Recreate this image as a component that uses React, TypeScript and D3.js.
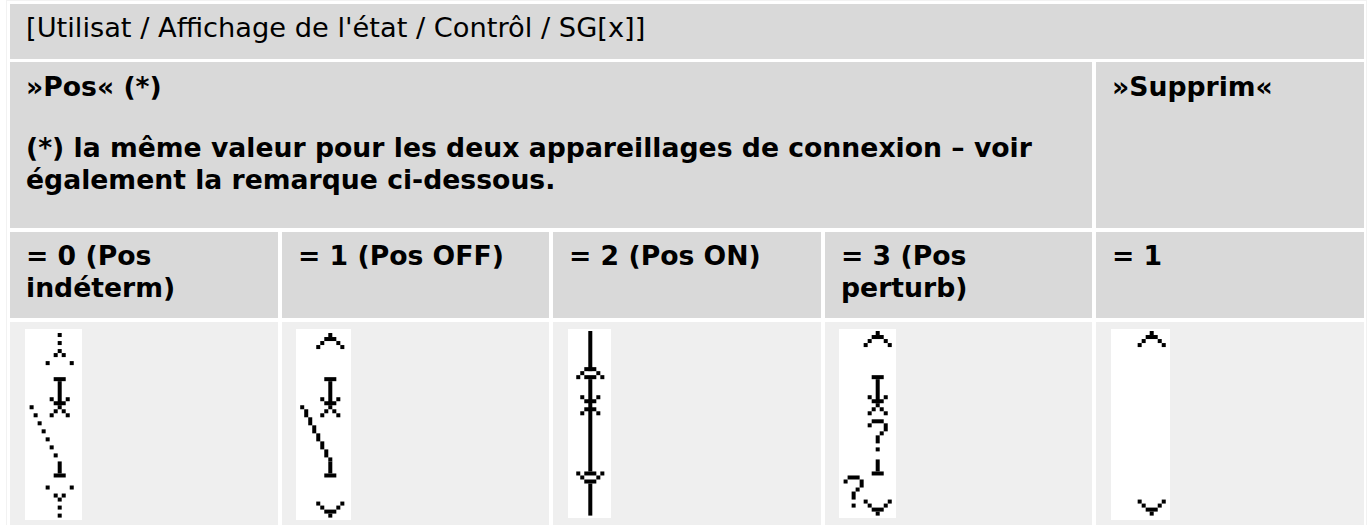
import * as d3 from "d3";

// text of the table
const breadcrumb = "[Utilisat / Affichage de l'état / Contrôl / SG[x]]";
const posTitle = ["»Pos« (*)"];
const posNote = [
  "(*) la même valeur pour les deux appareillages de connexion – voir",
  "également la remarque ci-dessous.",
];
const suppressHeader = ["»Supprim«"];
const valueLabels = [
  ["= 0 (Pos", "indéterm)"],
  ["= 1 (Pos OFF)"],
  ["= 2 (Pos ON)"],
  ["= 3 (Pos", "perturb)"],
  ["= 1"],
];
const columns = ["0", "1", "2", "3", "4"];

// pixel icons: [rowFrom, rowTo, colFrom, colTo], cols are relative to the stem
type Span = [number, number, number, number];

const solidTop: Span[] = [
  [1, 1, 0, 0],
  [2, 2, -1, 1],
  [3, 3, -2, -2],
  [3, 3, 2, 2],
  [4, 4, -3, -3],
  [4, 4, 3, 3],
];
const solidBottom: Span[] = [
  [43, 43, -3, -3],
  [43, 43, 3, 3],
  [44, 44, -2, -2],
  [44, 44, 2, 2],
  [45, 45, -1, 1],
  [46, 46, 0, 0],
];
const upperContact: Span[] = [
  [12, 12, -1, 1],
  [13, 18, 0, 0],
  [17, 17, -2, -2],
  [17, 17, 2, 2],
  [18, 18, -1, 1],
  [19, 19, 0, 0],
  [20, 20, -1, -1],
  [20, 20, 1, 1],
  [21, 21, -2, -2],
  [21, 21, 2, 2],
];
const lowerContact: Span[] = [
  [33, 35, 0, 0],
  [36, 36, -1, 1],
];

const iconIndeterm: Span[] = [
  [1, 1, 0, 0],
  [3, 3, 0, 0],
  [5, 5, 0, 0],
  [6, 6, -1, -1],
  [6, 6, 1, 1],
  [8, 8, -3, -3],
  [8, 8, 3, 3],
  ...upperContact,
  [19, 19, -7, -7],
  [21, 21, -6, -6],
  [23, 23, -5, -5],
  [25, 25, -4, -4],
  [27, 27, -3, -3],
  [29, 29, -2, -2],
  [31, 31, -1, -1],
  ...lowerContact,
  [39, 39, -3, -3],
  [39, 39, 3, 3],
  [41, 41, -1, -1],
  [41, 41, 1, 1],
  [42, 42, 0, 0],
  [44, 44, 0, 0],
  [46, 46, 0, 0],
];
const iconOff: Span[] = [
  ...solidTop,
  ...upperContact,
  [19, 19, -7, -7],
  [20, 21, -6, -6],
  [22, 23, -5, -5],
  [24, 25, -4, -4],
  [26, 27, -3, -3],
  [28, 29, -2, -2],
  [30, 31, -1, -1],
  [32, 32, 0, 0],
  ...lowerContact,
  ...solidBottom,
];
const iconOn: Span[] = [
  [1, 10, 0, 0],
  [10, 10, -1, 1],
  [11, 11, -2, -2],
  [11, 11, 2, 2],
  [12, 12, -3, -3],
  [12, 12, 3, 3],
  [12, 12, -1, 1],
  [13, 35, 0, 0],
  [17, 17, -2, -2],
  [17, 17, 2, 2],
  [18, 18, -1, 1],
  [20, 20, -1, 1],
  [21, 21, -2, -2],
  [21, 21, 2, 2],
  [36, 36, -3, -3],
  [36, 36, 3, 3],
  [36, 36, -1, 1],
  [37, 37, -2, -2],
  [37, 37, 2, 2],
  [38, 38, -1, 1],
  [39, 46, 0, 0],
];
const iconDisturbed: Span[] = [
  ...solidTop,
  ...upperContact,
  [23, 23, -1, 1],
  [24, 24, -2, -2],
  [24, 25, 2, 2],
  [26, 26, 1, 1],
  [27, 28, 0, 0],
  [30, 30, 0, 0],
  ...lowerContact,
  [37, 37, -7, -5],
  [38, 38, -8, -8],
  [38, 39, -4, -4],
  [40, 40, -5, -5],
  [41, 42, -6, -6],
  [44, 44, -6, -6],
  ...solidBottom,
];
const iconSuppressed: Span[] = [...solidTop, ...solidBottom];

const icons = [iconIndeterm, iconOff, iconOn, iconDisturbed, iconSuppressed];

// white image box and stem position of each icon
const iconBoxes = [
  { x0: 25, x1: 82, y1: 520, stem: 59.7, top: 329 },
  { x0: 296, x1: 351, y1: 520, stem: 330.3, top: 329 },
  { x0: 568, x1: 611, y1: 518, stem: 590.3, top: 327 },
  { x0: 839, x1: 896, y1: 518, stem: 877.7, top: 327 },
  { x0: 1111, x1: 1170, y1: 520, stem: 1151.7, top: 327 },
];
const iconPixel = 4.013;

const width = 1368;
const height = 525;
const headFill = "#d9d9d9";
const bodyFill = "#efefef";
const lineHeight = 32;
const padX = 16;

const xBand = d3
  .scaleBand()
  .domain(columns)
  .range([10, 1364])
  .paddingInner(4 / 271.6);

const colLeft = (i: number) => Math.round(xBand(String(i))!);
const colRight = (i: number) =>
  Math.round(xBand(String(i))! + xBand.bandwidth());

const CellLines = ({
  x,
  y,
  lines,
}: {
  x: number;
  y: number;
  lines: string[];
}) => (
  <>
    {lines.map((line, i) => (
      <text key={i} x={x} y={y + i * lineHeight} fontWeight="bold">
        {line}
      </text>
    ))}
  </>
);

const App = () => {
  return (
    <svg
      width={width}
      height={height}
      viewBox={`0 0 ${width} ${height}`}
      style={{ position: "absolute", left: 0, top: 0, background: "#fff" }}
      fontFamily="'DejaVu Sans'"
      fontSize={26.67}
      fill="#000"
    >
      <defs>
        <filter id="soft" x="-5%" y="-5%" width="110%" height="110%">
          <feGaussianBlur stdDeviation="0.35" />
        </filter>
      </defs>

      {/* faint table border */}
      <rect
        x={6.5}
        y={0.5}
        width={1360}
        height={height}
        fill="none"
        stroke="#f2f2f2"
      />

      {/* title row */}
      <rect x={10} y={4} width={1354} height={55} fill={headFill} />
      <text x={padX + 10} y={37} fontSize={27.25}>
        {breadcrumb}
      </text>

      {/* header row */}
      <rect
        x={10}
        y={62}
        width={colRight(3) - 10}
        height={166}
        fill={headFill}
      />
      <rect
        x={colLeft(4)}
        y={62}
        width={colRight(4) - colLeft(4)}
        height={166}
        fill={headFill}
      />
      <CellLines x={padX + 10} y={96} lines={posTitle} />
      <CellLines x={padX + 10} y={157} lines={posNote} />
      <CellLines x={colLeft(4) + padX} y={96} lines={suppressHeader} />

      {/* value row and icon row */}
      {columns.map((c, i) => {
        const box = iconBoxes[i];
        const px = d3
          .scaleLinear()
          .domain([0, 1])
          .range([box.stem - iconPixel / 2, box.stem + iconPixel / 2]);
        const py = d3
          .scaleLinear()
          .domain([0, 1])
          .range([box.top, box.top + iconPixel]);
        return (
          <g key={c}>
            <rect
              x={colLeft(i)}
              y={232}
              width={colRight(i) - colLeft(i)}
              height={86}
              fill={headFill}
            />
            <CellLines x={colLeft(i) + padX} y={265} lines={valueLabels[i]} />
            <rect
              x={colLeft(i)}
              y={322}
              width={colRight(i) - colLeft(i)}
              height={height - 322}
              fill={bodyFill}
            />
            <rect
              x={box.x0}
              y={329}
              width={box.x1 - box.x0}
              height={box.y1 - 329}
              fill="#fff"
            />
            <g filter="url(#soft)">
              {icons[i].map(([r0, r1, c0, c1], k) => (
                <rect
                  key={k}
                  x={px(c0)}
                  y={py(r0)}
                  width={px(c1 + 1) - px(c0)}
                  height={py(r1 + 1) - py(r0)}
                  fill="#000"
                />
              ))}
            </g>
          </g>
        );
      })}
    </svg>
  );
};

export default App;
